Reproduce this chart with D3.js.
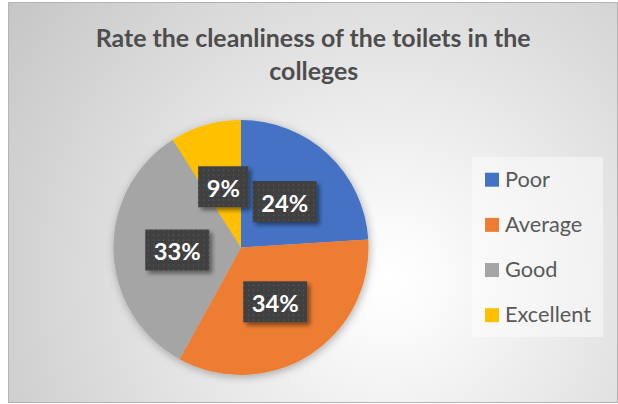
<!DOCTYPE html>
<html><head><meta charset="utf-8">
<script src="https://cdn.jsdelivr.net/npm/d3@7"></script>
<style>html,body{margin:0;padding:0;background:#fff;}svg{display:block;}</style>
</head><body>
<svg id="chart" width="618" height="404"></svg>
<script>
const categories = ["Poor", "Average", "Good", "Excellent"];
const values = [24, 34, 33, 9];
const colors = ["#4472C4", "#ED7D31", "#A5A5A5", "#FFC000"];
const titleLines = ["Rate the cleanliness of the toilets in the", "colleges"];

const svg = d3.select("#chart");
const defs = svg.append("defs");

const rg = defs.append("radialGradient").attr("id", "bg")
  .attr("gradientUnits", "userSpaceOnUse").attr("cx", 390).attr("cy", 280).attr("r", 470);
rg.append("stop").attr("offset", 0).attr("stop-color", "#ffffff");
rg.append("stop").attr("offset", 0.12).attr("stop-color", "#fafafa");
rg.append("stop").attr("offset", 1).attr("stop-color", "#c6c6c6");

const pat = defs.append("pattern").attr("id", "dots").attr("patternUnits", "userSpaceOnUse")
  .attr("width", 5).attr("height", 5);
pat.append("rect").attr("width", 5).attr("height", 5).attr("fill", "#404040");
pat.append("rect").attr("x", 2).attr("y", 2).attr("width", 1.2).attr("height", 1.2).attr("fill", "#5c5c5c");

const sh = defs.append("filter").attr("id", "pieShadow").attr("x", "-20%").attr("y", "-20%").attr("width", "140%").attr("height", "140%");
sh.append("feDropShadow").attr("dx", 1).attr("dy", 2).attr("stdDeviation", 4).attr("flood-color", "#000").attr("flood-opacity", 0.3);
const lsh = defs.append("filter").attr("id", "lblShadow").attr("x", "-30%").attr("y", "-30%").attr("width", "160%").attr("height", "160%");
lsh.append("feDropShadow").attr("dx", 3).attr("dy", 3).attr("stdDeviation", 2.2).attr("flood-color", "#000").attr("flood-opacity", 0.45);

// chart area
svg.append("rect").attr("x", 8.5).attr("y", 2.5).attr("width", 609).attr("height", 400)
  .attr("fill", "url(#bg)").attr("stroke", "#b4b4b4").attr("stroke-width", 1);

const font = "Lato, 'Noto Sans', sans-serif";
function fit(sel, target) {
  const w = sel.node().getComputedTextLength();
  const fs = parseFloat(sel.attr("font-size"));
  const nfs = fs * target / w;
  sel.attr("font-size", nfs);
  return nfs;
}

// title
const t1 = svg.append("text").attr("x", 313.2).attr("y", 47).attr("text-anchor", "middle")
  .attr("font-family", font).attr("font-weight", "bold").attr("font-size", 22).attr("fill", "#4d4d4d")
  .text(titleLines[0]);
const tfs = fit(t1, 435);
svg.append("text").attr("x", 313.8).attr("y", 80).attr("text-anchor", "middle")
  .attr("font-family", font).attr("font-weight", "bold").attr("font-size", tfs).attr("fill", "#4d4d4d")
  .text(titleLines[1]);

// pie
const cx = 241, cy = 247.5, R = 127.5;
const pie = d3.pie().sort(null).value(d => d);
const arcs = pie(values);
const arc = d3.arc().innerRadius(0).outerRadius(R);
const lblArc = d3.arc().innerRadius(R * 0.5).outerRadius(R * 0.5);
const color = d3.scaleOrdinal().domain(categories).range(colors);

const g = svg.append("g").attr("transform", `translate(${cx},${cy})`);
g.append("g").attr("filter", "url(#pieShadow)")
  .selectAll("path").data(arcs).join("path")
  .attr("d", arc).attr("fill", (d, i) => color(categories[i]));

// labels
const lg = g.append("g");
let lfs = null;
arcs.forEach((d, i) => {
  const [x, y] = lblArc.centroid(d);
  const grp = lg.append("g");
  const box = grp.append("rect").attr("fill", "url(#dots)").attr("filter", "url(#lblShadow)");
  const t = grp.append("text").attr("x", x).attr("y", y).attr("text-anchor", "middle")
    .attr("dominant-baseline", "central")
    .attr("font-family", font).attr("font-weight", "bold").attr("font-size", 22).attr("fill", "#ffffff")
    .text(values[i] + "%");
  if (lfs === null) {
    // fit size using a 2-digit label
    const probe = svg.append("text").attr("font-family", font).attr("font-weight", "bold").attr("font-size", 22).text("34%");
    lfs = fit(probe, 47);
    probe.remove();
  }
  t.attr("font-size", lfs);
  const w = t.node().getComputedTextLength() + 17;
  const h = 41;
  box.attr("x", x - w / 2).attr("y", y - h / 2 + 0.5).attr("width", w).attr("height", h);
  t.attr("y", y + 1.5);
});

// legend
svg.append("rect").attr("x", 472).attr("y", 157).attr("width", 131).attr("height", 180)
  .attr("fill", "#ffffff").attr("fill-opacity", 0.45);
const legY = d3.scalePoint().domain(categories).range([179.7, 315.2]);
const leg = svg.append("g");
const probe2 = svg.append("text").attr("font-family", font).attr("font-size", 20).text("Excellent");
const legFs = fit(probe2, 86);
probe2.remove();
categories.forEach(c => {
  const y = legY(c);
  leg.append("rect").attr("x", 485).attr("y", y - 7).attr("width", 14).attr("height", 14).attr("fill", color(c));
  leg.append("text").attr("x", 505).attr("y", y + 7).attr("font-family", font).attr("font-size", legFs)
    .attr("fill", "#595959").text(c);
});
</script>
</body></html>
